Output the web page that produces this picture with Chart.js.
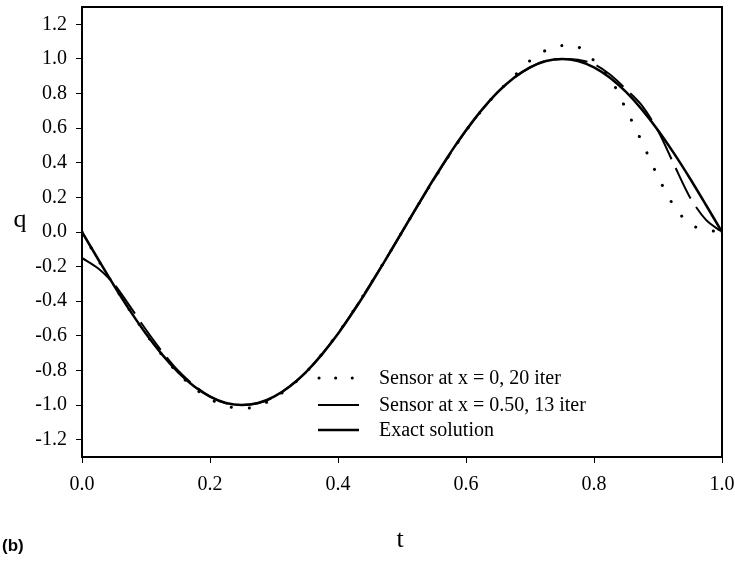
<!DOCTYPE html>
<html>
<head>
<meta charset="utf-8">
<script src="https://cdn.jsdelivr.net/npm/chart.js@4.4.1/dist/chart.umd.min.js"></script>
<style>
  html, body { margin: 0; padding: 0; background: #fff; }
  canvas { display: block; }
</style>
</head>
<body>
<canvas id="chart" width="735" height="562"></canvas>
<script>
// values
const tValues = [0, 0.025, 0.05, 0.075, 0.1, 0.125, 0.15, 0.175, 0.2, 0.225, 0.25, 0.275, 0.3, 0.325, 0.35, 0.375, 0.4, 0.425, 0.45, 0.475, 0.5, 0.525, 0.55, 0.575, 0.6, 0.625, 0.65, 0.675, 0.7, 0.725, 0.75, 0.775, 0.8, 0.825, 0.85, 0.875, 0.9, 0.925, 0.95, 0.975, 1.0];

const sensor0 = [0, -0.16, -0.31, -0.455, -0.59, -0.71, -0.815, -0.9, -0.965, -1.005, -1.02, -1.005, -0.96, -0.895, -0.81, -0.705, -0.585, -0.45, -0.305, -0.155, 0, 0.155, 0.305, 0.45, 0.585, 0.705, 0.81, 0.9, 0.99, 1.05, 1.077, 1.07, 0.99, 0.89, 0.71, 0.52, 0.32, 0.15, 0.045, 0.012, 0];

const sensor050 = [-0.15, -0.21, -0.3, -0.43, -0.565, -0.69, -0.8, -0.885, -0.95, -0.99, -1.0, -0.99, -0.955, -0.89, -0.81, -0.705, -0.585, -0.45, -0.305, -0.155, 0, 0.155, 0.305, 0.45, 0.585, 0.705, 0.81, 0.89, 0.95, 0.99, 1.0, 0.995, 0.97, 0.91, 0.825, 0.73, 0.585, 0.39, 0.2, 0.07, 0];

const exact = [0, -0.156, -0.309, -0.454, -0.588, -0.707, -0.809, -0.891, -0.951, -0.988, -1.0, -0.988, -0.951, -0.891, -0.809, -0.707, -0.588, -0.454, -0.309, -0.156, 0, 0.156, 0.309, 0.454, 0.588, 0.707, 0.809, 0.891, 0.951, 0.988, 1.0, 0.988, 0.951, 0.891, 0.809, 0.707, 0.588, 0.454, 0.309, 0.156, 0];

const seriesNames = ["Sensor at x = 0, 20 iter", "Sensor at x = 0.50, 13 iter", "Exact solution"];
const yTicks = [-1.2, -1.0, -0.8, -0.6, -0.4, -0.2, 0.0, 0.2, 0.4, 0.6, 0.8, 1.0, 1.2];
const xTicks = [0.0, 0.2, 0.4, 0.6, 0.8, 1.0];

const serif = "'Liberation Serif', 'Times New Roman', serif";

function pairs(ys) {
  return tValues.map((t, i) => ({ x: t, y: ys[i] }));
}

// frame, axis names, legend and panel label
const decorations = {
  id: "decorations",
  afterDraw(chart) {
    const ctx = chart.ctx;
    const a = chart.chartArea;
    ctx.save();
    ctx.strokeStyle = "#000";
    ctx.lineWidth = 2;
    ctx.strokeRect(a.left, a.top, a.right - a.left, a.bottom - a.top);

    ctx.fillStyle = "#000";
    ctx.font = "26px " + serif;
    ctx.textAlign = "center";
    ctx.textBaseline = "middle";
    ctx.fillText("q", 20, 220);
    ctx.fillText("t", 400, 540);

    ctx.font = "bold 17px 'Liberation Sans', Arial, sans-serif";
    ctx.textAlign = "left";
    ctx.fillText("(b)", 2, 546);

    // legend
    const rows = [378, 405, 430];
    chart.data.datasets.forEach((ds, i) => {
      const y = rows[i];
      ctx.beginPath();
      ctx.lineWidth = ds.borderWidth;
      ctx.lineCap = ds.borderCapStyle || "butt";
      ctx.setLineDash(i === 0 ? [0.1, 16.5] : []);
      ctx.moveTo(i === 0 ? 319 : 318, y);
      ctx.lineTo(i === 0 ? 355 : 359, y);
      ctx.stroke();
      ctx.setLineDash([]);
      ctx.font = "20px " + serif;
      ctx.textBaseline = "middle";
      ctx.fillText(ds.label, 379, y + 1);
    });
    ctx.restore();
  },
};

new Chart(document.getElementById("chart"), {
  type: "line",
  data: {
    datasets: [
      {
        label: seriesNames[0],
        data: pairs(sensor0),
        borderColor: "#000",
        borderWidth: 3,
        borderDash: [0.1, 18],
        borderCapStyle: "round",
        pointRadius: 0,
        tension: 0.3,
        fill: false,
      },
      {
        label: seriesNames[1],
        data: pairs(sensor050),
        borderColor: "#000",
        borderWidth: 2,
        borderDash: [34, 10],
        pointRadius: 0,
        tension: 0.3,
        fill: false,
      },
      {
        label: seriesNames[2],
        data: pairs(exact),
        borderColor: "#000",
        borderWidth: 2.5,
        pointRadius: 0,
        tension: 0.3,
        fill: false,
      },
    ],
  },
  options: {
    responsive: false,
    animation: false,
    layout: { padding: { left: 0, right: 13, top: 7, bottom: 0 } },
    plugins: {
      legend: { display: false },
      title: { display: false },
      tooltip: { enabled: false },
    },
    scales: {
      x: {
        type: "linear",
        min: 0,
        max: 1,
        afterBuildTicks: (scale) => {
          scale.ticks = xTicks.map((v) => ({ value: v }));
        },
        afterFit: (scale) => {
          scale.height = 105;
          scale.paddingLeft = 0;
          scale.paddingRight = 0;
        },
        grid: {
          drawOnChartArea: false,
          drawTicks: true,
          tickLength: 6,
          color: "#000",
          lineWidth: 1,
        },
        border: { color: "#000", width: 2 },
        ticks: {
          color: "#000",
          padding: 10,
          font: { family: serif, size: 20 },
          maxRotation: 0,
          callback: (v) => Number(v).toFixed(1),
        },
      },
      y: {
        type: "linear",
        min: -1.3,
        max: 1.3,
        afterBuildTicks: (scale) => {
          scale.ticks = yTicks.map((v) => ({ value: v }));
        },
        afterFit: (scale) => {
          scale.width = 82;
          scale.paddingTop = 0;
          scale.paddingBottom = 0;
        },
        grid: {
          drawOnChartArea: false,
          drawTicks: true,
          tickLength: 6,
          color: "#000",
          lineWidth: 1,
        },
        border: { color: "#000", width: 2 },
        ticks: {
          color: "#000",
          padding: 9,
          font: { family: serif, size: 20 },
          callback: (v) => Number(v).toFixed(1),
        },
      },
    },
  },
  plugins: [decorations],
});
</script>
</body>
</html>
